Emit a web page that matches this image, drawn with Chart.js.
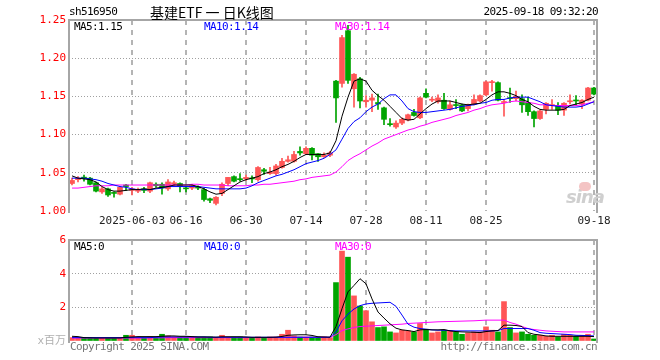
<!DOCTYPE html>
<html lang="zh">
<head>
<meta charset="UTF-8">
<title>基建ETF 日K线图</title>
<script src="https://cdn.jsdelivr.net/npm/chart.js"></script>
<style>
  body { margin: 0; background: #fff; }
  #box { position: relative; width: 660px; height: 360px; overflow: hidden; font-family: "DejaVu Sans Mono", monospace; }
  canvas { position: absolute; left: 0; }
  .t { position: absolute; font-size: 11px; letter-spacing: -0.6px; line-height: 12px; white-space: nowrap; color: #000; }
</style>
</head>
<body>
<div id="box">
  <canvas id="kline" width="660" height="235" style="top:0"></canvas>
  <canvas id="vol" width="660" height="135" style="top:225px"></canvas>

  <div class="t" style="left:69px;top:6px">sh516950</div>
  <div class="t" style="left:150px;top:3px;font-family:'Noto Sans CJK SC';font-size:14px;letter-spacing:0;line-height:18px">基建ETF 一 日K线图</div>
  <div class="t" style="right:62px;top:6px">2025-09-18 09:32:20</div>

  <div class="t" id="lbMa5" style="left:74px;top:21px"></div>
  <div class="t" id="lbMa10" style="left:204px;top:21px;color:#0000ff"></div>
  <div class="t" id="lbMa30" style="left:335px;top:21px;color:#ff00ff"></div>

  <div class="t" style="left:74px;top:241px">MA5:0</div>
  <div class="t" style="left:204px;top:241px;color:#0000ff">MA10:0</div>
  <div class="t" style="left:335px;top:241px;color:#ff00ff">MA30:0</div>

  <div class="t" style="left:566px;top:187px;font-family:'DejaVu Sans';font-size:18px;font-weight:bold;font-style:italic;letter-spacing:-1px;color:#cfcfcf;line-height:20px">sina</div>
  <div style="position:absolute;left:579px;top:182px;width:12px;height:9px;border-radius:6px;background:#f4c4c4"></div>

  <div class="t" style="left:70px;top:341px;color:#777">Copyright 2025 SINA.COM</div>
  <div class="t" style="right:63px;top:341px;color:#777">http://finance.sina.com.cn</div>
</div>

<script>
// trading days shown (2025)
const dates = [
  '05-19','05-20','05-21','05-22','05-23','05-26','05-27','05-28','05-29','05-30',
  '06-03','06-04','06-05','06-06','06-09','06-10','06-11','06-12','06-13','06-16',
  '06-17','06-18','06-19','06-20','06-23','06-24','06-25','06-26','06-27','06-30',
  '07-01','07-02','07-03','07-04','07-07','07-08','07-09','07-10','07-11','07-14',
  '07-15','07-16','07-17','07-18','07-21','07-22','07-23','07-24','07-25','07-28',
  '07-29','07-30','07-31','08-01','08-04','08-05','08-06','08-07','08-08','08-11',
  '08-12','08-13','08-14','08-15','08-18','08-19','08-20','08-21','08-22','08-25',
  '08-26','08-27','08-28','08-29','09-01','09-02','09-03','09-04','09-05','09-08',
  '09-09','09-10','09-11','09-12','09-15','09-16','09-17','09-18'
];
const tickLabels = ['2025-06-03','06-16','06-30','07-14','07-28','08-11','08-25','09-18'];
const priceTicks = [1.00, 1.05, 1.10, 1.15, 1.20, 1.25];
const volTicks = [0, 2, 4, 6];

const opens = [
  1.036,1.041,1.044,1.043,1.037,1.025,1.029,1.024,1.022,1.034,
  1.027,1.026,1.029,1.026,1.035,1.035,1.029,1.035,1.036,1.030,
  1.030,1.031,1.028,1.016,1.010,1.023,1.036,1.045,1.042,1.042,
  1.043,1.041,1.054,1.049,1.049,1.057,1.065,1.065,1.078,1.075,
  1.082,1.075,1.071,1.073,1.170,1.167,1.236,1.160,1.173,1.143,
  1.145,1.142,1.135,1.114,1.110,1.115,1.119,1.129,1.122,1.154,
  1.145,1.143,1.145,1.133,1.139,1.139,1.134,1.140,1.144,1.152,
  1.168,1.168,1.142,1.148,1.147,1.147,1.142,1.130,1.121,1.133,
  1.138,1.138,1.132,1.143,1.145,1.140,1.145,1.161
];
const closes = [
  1.040,1.043,1.043,1.035,1.026,1.029,1.021,1.023,1.031,1.032,
  1.029,1.028,1.027,1.037,1.033,1.030,1.038,1.037,1.032,1.029,
  1.033,1.030,1.015,1.014,1.018,1.035,1.044,1.039,1.041,1.044,
  1.042,1.057,1.052,1.051,1.059,1.065,1.067,1.074,1.076,1.082,
  1.073,1.071,1.073,1.076,1.148,1.227,1.171,1.179,1.144,1.145,
  1.148,1.140,1.120,1.113,1.115,1.120,1.126,1.125,1.148,1.149,
  1.146,1.148,1.134,1.139,1.138,1.131,1.139,1.146,1.151,1.169,
  1.169,1.145,1.143,1.147,1.150,1.139,1.130,1.121,1.131,1.141,
  1.139,1.132,1.141,1.144,1.144,1.145,1.161,1.153
];
const highs = [
  1.043,1.045,1.047,1.044,1.038,1.031,1.030,1.025,1.032,1.035,
  1.031,1.030,1.031,1.038,1.037,1.037,1.041,1.039,1.037,1.032,
  1.035,1.033,1.030,1.017,1.019,1.037,1.044,1.046,1.049,1.047,
  1.046,1.058,1.056,1.057,1.061,1.069,1.072,1.078,1.084,1.084,
  1.083,1.075,1.076,1.078,1.171,1.230,1.243,1.180,1.175,1.151,
  1.153,1.153,1.136,1.121,1.118,1.122,1.127,1.133,1.149,1.160,
  1.149,1.152,1.154,1.144,1.146,1.140,1.140,1.152,1.152,1.170,
  1.171,1.169,1.146,1.161,1.157,1.152,1.149,1.131,1.132,1.142,
  1.146,1.142,1.142,1.152,1.151,1.146,1.162,1.162
];
const lows = [
  1.034,1.038,1.039,1.034,1.025,1.023,1.019,1.018,1.021,1.027,
  1.021,1.024,1.024,1.024,1.031,1.022,1.027,1.033,1.025,1.025,
  1.028,1.028,1.013,1.011,1.008,1.020,1.033,1.038,1.039,1.040,
  1.037,1.039,1.048,1.048,1.047,1.056,1.064,1.064,1.073,1.074,
  1.067,1.065,1.070,1.071,1.116,1.162,1.167,1.136,1.135,1.136,
  1.130,1.133,1.113,1.111,1.108,1.113,1.118,1.124,1.121,1.148,
  1.143,1.141,1.133,1.132,1.134,1.130,1.131,1.139,1.143,1.151,
  1.157,1.144,1.124,1.142,1.144,1.129,1.125,1.110,1.120,1.127,
  1.133,1.126,1.125,1.140,1.139,1.134,1.144,1.152
];
const ma5 = [
  1.046,1.043,1.042,1.041,1.038,1.032,1.028,1.026,1.026,1.027,
  1.028,1.028,1.029,1.028,1.030,1.031,1.032,1.034,1.034,1.034,
  1.034,1.032,1.029,1.025,1.022,1.023,1.028,1.033,1.038,1.041,
  1.043,1.045,1.049,1.051,1.054,1.058,1.061,1.065,1.070,1.074,
  1.074,1.074,1.074,1.076,1.092,1.124,1.149,1.170,1.173,1.170,
  1.158,1.151,1.145,1.137,1.129,1.121,1.119,1.120,1.127,1.134,
  1.140,1.144,1.144,1.144,1.142,1.140,1.139,1.140,1.141,1.146,
  1.152,1.156,1.156,1.154,1.151,1.146,1.143,1.137,1.133,1.132,
  1.132,1.132,1.133,1.138,1.140,1.142,1.146,1.149
];
const ma10 = [
  1.043,1.043,1.043,1.042,1.041,1.039,1.036,1.034,1.032,1.031,
  1.029,1.028,1.028,1.028,1.029,1.030,1.032,1.032,1.032,1.032,
  1.032,1.032,1.031,1.030,1.029,1.029,1.029,1.029,1.029,1.030,
  1.033,1.037,1.040,1.043,1.046,1.048,1.051,1.054,1.058,1.062,
  1.064,1.066,1.069,1.074,1.080,1.094,1.108,1.117,1.122,1.130,
  1.136,1.140,1.147,1.152,1.152,1.144,1.134,1.130,1.129,1.129,
  1.130,1.131,1.132,1.133,1.135,1.137,1.138,1.139,1.141,1.142,
  1.145,1.146,1.146,1.148,1.149,1.149,1.149,1.146,1.143,1.139,
  1.138,1.137,1.136,1.136,1.136,1.137,1.140,1.143
];
const ma30 = [
  1.030,1.030,1.031,1.032,1.033,1.033,1.033,1.034,1.034,1.034,
  1.034,1.034,1.034,1.034,1.034,1.034,1.034,1.034,1.034,1.034,
  1.035,1.035,1.034,1.034,1.034,1.034,1.033,1.033,1.033,1.033,
  1.034,1.034,1.035,1.035,1.036,1.037,1.038,1.039,1.041,1.042,
  1.044,1.045,1.046,1.047,1.051,1.058,1.066,1.071,1.075,1.080,
  1.085,1.089,1.094,1.097,1.100,1.103,1.106,1.108,1.111,1.113,
  1.116,1.118,1.120,1.122,1.125,1.127,1.129,1.132,1.134,1.137,
  1.139,1.140,1.141,1.143,1.144,1.143,1.142,1.141,1.139,1.139,
  1.138,1.138,1.138,1.138,1.138,1.139,1.141,1.143
];
// volume, millions
const volumes = [
  0.20,0.20,0.18,0.18,0.18,0.18,0.18,0.18,0.20,0.34,
  0.34,0.24,0.20,0.24,0.20,0.40,0.30,0.24,0.24,0.24,
  0.24,0.24,0.24,0.24,0.20,0.34,0.24,0.24,0.24,0.20,
  0.20,0.24,0.20,0.24,0.24,0.40,0.64,0.30,0.24,0.24,
  0.24,0.24,0.24,0.20,3.47,5.34,4.98,2.68,2.08,1.80,
  1.14,0.80,0.84,0.54,0.48,0.64,0.60,0.54,1.04,0.70,
  0.48,0.54,0.64,0.60,0.54,0.40,0.48,0.54,0.54,0.84,
  0.64,0.54,2.34,0.80,0.48,0.54,0.40,0.34,0.34,0.28,
  0.34,0.24,0.40,0.34,0.30,0.34,0.40,0.12
];
const volMa5 = [
  0.28,0.26,0.20,0.19,0.18,0.18,0.18,0.18,0.18,0.22,
  0.24,0.26,0.26,0.26,0.26,0.28,0.30,0.30,0.28,0.28,
  0.26,0.24,0.24,0.24,0.23,0.25,0.25,0.25,0.25,0.24,
  0.22,0.22,0.22,0.22,0.23,0.27,0.34,0.36,0.37,0.37,
  0.33,0.25,0.24,0.23,0.86,1.92,2.92,3.30,3.70,3.40,
  2.50,1.72,1.36,1.02,0.76,0.66,0.62,0.56,0.66,0.68,
  0.66,0.66,0.68,0.60,0.56,0.54,0.53,0.52,0.50,0.56,
  0.60,0.62,0.94,0.94,0.92,0.86,0.50,0.40,0.36,0.30,
  0.28,0.28,0.28,0.28,0.28,0.28,0.28,0.26
];
const volMa10 = [
  0.20,0.20,0.20,0.20,0.20,0.20,0.20,0.20,0.20,0.20,
  0.20,0.20,0.20,0.20,0.22,0.24,0.24,0.24,0.24,0.24,
  0.24,0.24,0.24,0.22,0.22,0.22,0.22,0.22,0.22,0.22,
  0.22,0.22,0.22,0.22,0.22,0.22,0.22,0.22,0.22,0.22,
  0.22,0.22,0.22,0.22,0.54,1.20,1.60,1.90,2.10,2.20,
  2.24,2.26,2.28,2.30,2.06,1.54,1.00,0.82,0.74,0.70,
  0.66,0.64,0.64,0.62,0.60,0.60,0.60,0.60,0.60,0.60,
  0.60,0.62,0.74,0.74,0.74,0.74,0.74,0.64,0.50,0.46,
  0.44,0.42,0.40,0.38,0.34,0.33,0.32,0.30
];
const volMa30 = [
  0.18,0.18,0.18,0.18,0.18,0.18,0.18,0.18,0.18,0.18,
  0.18,0.18,0.18,0.19,0.19,0.19,0.20,0.20,0.20,0.20,
  0.20,0.20,0.20,0.20,0.20,0.20,0.20,0.20,0.20,0.20,
  0.20,0.20,0.20,0.20,0.21,0.21,0.21,0.22,0.22,0.22,
  0.22,0.22,0.22,0.22,0.38,0.62,0.72,0.80,0.86,0.88,
  0.90,0.92,0.94,0.96,0.98,1.00,1.04,1.06,1.08,1.10,
  1.12,1.14,1.15,1.16,1.17,1.18,1.19,1.20,1.22,1.24,
  1.24,1.24,1.24,1.10,1.00,0.86,0.74,0.68,0.64,0.60,
  0.58,0.56,0.54,0.54,0.54,0.54,0.54,0.54
];

const UP = '#ff5656', DOWN = '#00a400';
const colors = dates.map((_, i) => closes[i] >= opens[i] ? UP : DOWN);
const tickIdx = tickLabels.map(l => dates.indexOf(l.slice(-5)));
const last = a => a[a.length - 1];

document.getElementById('lbMa5').textContent = 'MA5:' + last(ma5).toFixed(2);
document.getElementById('lbMa10').textContent = 'MA10:' + last(ma10).toFixed(2);
document.getElementById('lbMa30').textContent = 'MA30:' + last(ma30).toFixed(2);

Chart.defaults.font.family = '"DejaVu Sans Mono", "Noto Sans CJK SC", monospace';
Chart.defaults.font.size = 11;

// solid grey frame: left, top, right
const frame = {
  id: 'frame',
  afterDatasetsDraw(chart) {
    const { ctx, chartArea: a } = chart;
    ctx.save();
    ctx.strokeStyle = '#a6a6a6';
    ctx.lineWidth = 2;
    ctx.beginPath();
    ctx.moveTo(a.left, a.bottom + 2);
    ctx.lineTo(a.left, a.top);
    ctx.lineTo(a.right, a.top);
    ctx.lineTo(a.right, a.bottom + 2);
    ctx.stroke();
    ctx.restore();
  }
};

function xAxis(showLabels, h) {
  return {
    type: 'category',
    offset: true,
    grid: { offset: false, color: '#b4b4b4', lineWidth: 2, drawTicks: false },
    border: { display: false, dash: [5, 5] },
    ticks: {
      display: showLabels, autoSkip: false, maxRotation: 0, padding: 4, color: '#222',
      callback: v => tickLabels[tickIdx.indexOf(v)]
    },
    afterBuildTicks: s => { s.ticks = tickIdx.map(v => ({ value: v })); },
    afterFit: s => { s.height = h; }
  };
}

function maLine(data, color, order) {
  return { type: 'line', data: data, borderColor: color, borderWidth: 1, pointRadius: 0, tension: 0, order: order };
}

new Chart(document.getElementById('kline'), {
  type: 'bar',
  data: {
    labels: dates,
    datasets: [
      maLine(ma5, '#000000', 0),
      maLine(ma10, '#0000ff', 1),
      maLine(ma30, '#ff00ff', 2),
      { data: dates.map((_, i) => [opens[i], closes[i]]), backgroundColor: colors,
        barThickness: 5, minBarLength: 1, grouped: false, order: 3 },
      { data: dates.map((_, i) => [lows[i], highs[i]]), backgroundColor: colors,
        barThickness: 1, grouped: false, order: 4 }
    ]
  },
  options: {
    responsive: false,
    animation: false,
    events: [],
    layout: { padding: { top: 20, right: 63, left: 0, bottom: 0 } },
    plugins: { legend: { display: false }, tooltip: { enabled: false } },
    scales: {
      x: xAxis(true, 24),
      y: {
        min: 1.0, max: 1.25,
        afterBuildTicks: s => { s.ticks = priceTicks.map(v => ({ value: v })); },
        grid: { color: c => c.tick.value === priceTicks[0] ? 'rgba(0,0,0,0)' : '#a0a0a0', lineWidth: 1, drawTicks: false },
        border: { display: false, dash: [1, 2] },
        ticks: { color: '#ff0000', padding: 3, callback: v => v.toFixed(2) },
        afterFit: s => { s.width = 69; }
      }
    }
  },
  plugins: [frame]
});

new Chart(document.getElementById('vol'), {
  type: 'bar',
  data: {
    labels: dates,
    datasets: [
      maLine(volMa5, '#000000', 0),
      maLine(volMa10, '#0000ff', 1),
      maLine(volMa30, '#ff00ff', 2),
      { data: volumes, backgroundColor: colors, barThickness: 5, grouped: false, order: 3 }
    ]
  },
  options: {
    responsive: false,
    animation: false,
    events: [],
    layout: { padding: { top: 15, right: 63, left: 0, bottom: 0 } },
    plugins: { legend: { display: false }, tooltip: { enabled: false } },
    scales: {
      x: xAxis(false, 19),
      y: {
        min: 0, max: 6,
        afterBuildTicks: s => { s.ticks = volTicks.map(v => ({ value: v })); },
        grid: { color: c => c.tick.value === 0 ? 'rgba(0,0,0,0)' : '#a0a0a0', lineWidth: 1, drawTicks: false },
        border: { display: false, dash: [1, 2] },
        ticks: {
          color: c => c.tick.value === 0 ? '#b0b0b0' : '#ff0000', padding: 3,
          callback: v => v === 0 ? 'x百万' : String(v)
        },
        afterFit: s => { s.width = 69; }
      }
    }
  },
  plugins: [frame]
});
</script>
</body>
</html>
